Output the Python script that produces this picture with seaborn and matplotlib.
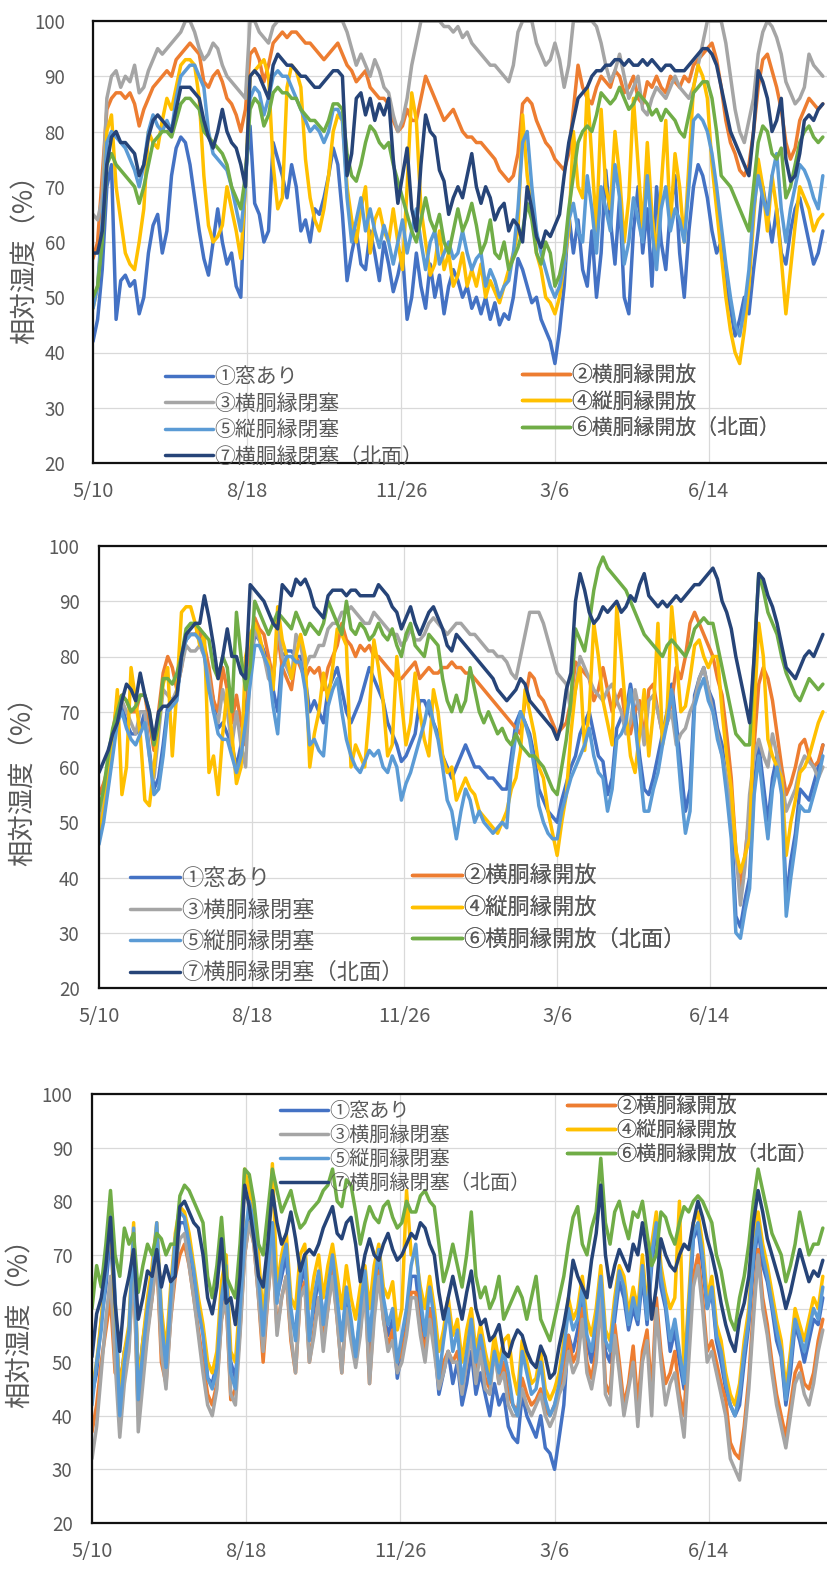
import numpy as np
import pandas as pd
import matplotlib
matplotlib.use("Agg")
import matplotlib.pyplot as plt
import matplotlib.dates as mdates
from matplotlib.lines import Line2D
from matplotlib.ticker import FixedLocator, FixedFormatter
import seaborn as sns

# ---- data: relative humidity (%), one reading every 3 days from 2018-05-10 ----
START = "2018-05-10"
STEP = "3D"

series_names = ["①窓あり", "②横胴縁開放", "③横胴縁閉塞", "④縦胴縁開放",
                "⑤縦胴縁閉塞", "⑥横胴縁開放（北面）", "⑦横胴縁閉塞（北面）"]
colors = ["#4472C4", "#ED7D31", "#A5A5A5", "#FFC000", "#5B9BD5", "#70AD47", "#264478"]
tick_labels = ["5/10", "8/18", "11/26", "3/6", "6/14"]
tick_offsets_days = [0, 100, 200, 300, 400]
y_ticks = [20, 30, 40, 50, 60, 70, 80, 90, 100]

# panel 1
p1_s1 = [42, 46, 55, 70, 74, 46, 53, 54, 52, 53,
         47, 50, 58, 63, 65, 58, 62, 72, 77, 79,
         78, 74, 68, 62, 57, 54, 60, 66, 60, 56,
         58, 52, 50, 72, 81, 67, 65, 60, 62, 78,
         75, 72, 68, 74, 70, 62, 64, 60, 66, 65,
         68, 72, 77, 74, 65, 53, 58, 62, 56, 55,
         62, 58, 53, 60, 56, 51, 54, 58, 46, 50,
         58, 52, 48, 56, 50, 54, 47, 52, 55, 53,
         50, 52, 48, 50, 47, 50, 46, 49, 45, 47,
         46, 50, 57, 55, 52, 49, 50, 46, 44, 42,
         38, 44, 52, 65, 58, 64, 55, 52, 62, 50,
         58, 73, 64, 56, 68, 50, 47, 62, 70, 58,
         66, 52, 70, 60, 55, 66, 72, 58, 50, 62,
         70, 74, 72, 68, 62, 58, 60, 52, 48, 43,
         46, 50, 47, 55, 62, 70, 65, 60, 66, 58,
         56, 62, 66, 68, 64, 60, 56, 58, 62]
p1_s2 = [57, 60, 72, 84, 86, 87, 87, 86, 87, 85,
         81, 84, 86, 88, 89, 90, 91, 90, 93, 94,
         95, 96, 95, 94, 89, 88, 90, 91, 89, 86,
         85, 83, 80, 84, 94, 95, 93, 89, 92, 96,
         97, 98, 97, 98, 98, 97, 96, 96, 95, 94,
         93, 94, 95, 96, 94, 92, 91, 89, 90, 91,
         88, 87, 86, 86, 85, 82, 80, 81, 84, 82,
         82, 86, 90, 88, 86, 84, 82, 83, 84, 82,
         80, 79, 79, 78, 78, 77, 76, 75, 73, 72,
         71, 72, 76, 85, 86, 85, 82, 80, 78, 77,
         75, 74, 73, 76, 84, 92, 88, 86, 85, 88,
         90, 89, 88, 91, 90, 87, 88, 90, 86, 85,
         89, 88, 90, 88, 87, 90, 89, 88, 90, 89,
         92, 93, 94, 95, 96, 93, 88, 82, 78, 76,
         73, 72, 74, 80, 88, 93, 94, 91, 88, 84,
         78, 75, 77, 82, 84, 86, 85, 84, 85]
p1_s3 = [65, 64, 68, 86, 90, 91, 88, 90, 89, 92,
         87, 88, 91, 93, 95, 94, 95, 96, 97, 98,
         100, 100, 98, 95, 93, 94, 96, 95, 92, 90,
         89, 88, 87, 86, 100, 100, 98, 97, 96, 99,
         100, 100, 100, 100, 100, 100, 100, 100, 100, 100,
         100, 100, 100, 100, 100, 98, 95, 92, 94, 92,
         90, 93, 91, 88, 87, 83, 80, 82, 86, 92,
         96, 100, 100, 100, 100, 100, 99, 99, 98, 99,
         97, 98, 96, 95, 94, 93, 92, 92, 91, 90,
         89, 92, 98, 100, 100, 100, 96, 94, 92, 93,
         96, 93, 88, 92, 100, 100, 100, 100, 100, 99,
         96, 92, 89, 91, 94, 90, 86, 88, 90, 84,
         83, 86, 88, 87, 86, 88, 90, 88, 87, 86,
         88, 92, 96, 100, 100, 100, 100, 96, 90, 84,
         80, 78, 82, 86, 94, 98, 100, 99, 97, 94,
         89, 87, 85, 86, 88, 94, 92, 91, 90]
p1_s4 = [48, 52, 62, 80, 83, 70, 64, 58, 56, 55,
         60, 66, 80, 78, 77, 82, 86, 84, 88, 92,
         93, 93, 92, 86, 72, 63, 60, 61, 63, 70,
         66, 62, 57, 70, 90, 91, 92, 93, 90, 74,
         66, 68, 88, 92, 91, 88, 75, 68, 64, 62,
         66, 72, 80, 83, 82, 70, 64, 60, 66, 70,
         58, 64, 66, 62, 60, 66, 60, 55, 70, 87,
         82, 66, 60, 54, 56, 62, 55, 58, 52, 54,
         58, 52, 55, 52, 56, 50, 53, 51, 49, 52,
         55, 58, 62, 83, 72, 66, 58, 55, 50, 49,
         47, 50, 56, 62, 80, 70, 68, 88, 75, 62,
         84, 70, 66, 80, 72, 60, 68, 86, 74, 62,
         78, 65, 58, 70, 82, 63, 76, 70, 60, 74,
         88, 92, 90, 86, 74, 66, 58, 50, 44, 40,
         38, 44, 52, 64, 75, 70, 62, 72, 66, 57,
         47, 55, 63, 70, 68, 66, 62, 64, 65]
p1_s5 = [48, 52, 64, 78, 80, 79, 78, 77, 75, 73,
         70, 74, 80, 83, 81, 80, 82, 80, 86, 90,
         91, 92, 92, 90, 88, 80, 76, 75, 74, 73,
         70, 66, 62, 70, 86, 88, 87, 83, 86, 90,
         91, 90, 90, 88, 86, 84, 82, 80, 81, 80,
         78, 80, 84, 84, 82, 68, 60, 64, 68, 62,
         66, 62, 59, 63, 60, 56, 60, 64, 58, 62,
         66, 60, 55, 60, 62, 56, 58, 60, 57, 58,
         62, 58, 55, 57, 58, 52, 55, 53, 50, 52,
         53, 58, 66, 78, 80, 70, 62, 58, 55, 52,
         50, 52, 56, 64, 67, 62, 60, 72, 66, 58,
         70, 66, 62, 74, 68, 56, 60, 68, 64, 60,
         72, 62, 55, 66, 70, 62, 66, 64, 60, 70,
         82, 83, 82, 80, 76, 70, 63, 56, 50, 45,
         43, 48, 55, 66, 72, 68, 65, 72, 76, 66,
         60, 66, 70, 74, 73, 71, 68, 66, 72]
p1_s6 = [50, 52, 60, 74, 76, 74, 73, 72, 71, 70,
         67, 70, 74, 78, 79, 80, 80, 79, 82, 85,
         86, 86, 85, 84, 80, 79, 78, 77, 76, 74,
         70, 68, 66, 72, 84, 86, 85, 81, 83, 87,
         88, 87, 87, 86, 86, 84, 83, 82, 82, 81,
         80, 82, 85, 85, 84, 76, 72, 71, 74, 78,
         81, 80, 78, 77, 78, 74, 71, 68, 65, 62,
         60, 64, 68, 64, 62, 65, 60, 58, 62, 66,
         62, 64, 67, 63, 58, 60, 64, 58, 57, 60,
         55, 57, 59, 62, 67, 64, 58, 56, 60, 58,
         52, 54, 58, 66, 72, 78, 80, 81, 80, 83,
         87, 86, 85, 86, 88, 86, 84, 85, 87, 86,
         85, 83, 84, 82, 84, 83, 82, 80, 79, 83,
         87, 88, 89, 89, 86, 80, 72, 71, 70, 68,
         66, 64, 62, 70, 78, 81, 80, 76, 75, 77,
         68, 70, 74, 78, 80, 81, 79, 78, 79]
p1_s7 = [58, 58, 62, 74, 79, 80, 78, 78, 77, 76,
         72, 74, 79, 82, 83, 82, 81, 80, 84, 88,
         88, 88, 87, 86, 82, 79, 77, 80, 84, 80,
         78, 77, 74, 70, 90, 91, 90, 88, 86, 92,
         94, 93, 92, 92, 91, 90, 90, 89, 88, 88,
         89, 90, 91, 91, 90, 72, 76, 86, 87, 83,
         86, 82, 85, 83, 86, 75, 67, 72, 77, 66,
         62, 74, 83, 80, 79, 73, 71, 65, 68, 70,
         68, 72, 76, 70, 67, 70, 68, 64, 66, 67,
         62, 64, 63, 60, 70, 66, 61, 59, 62, 61,
         63, 65, 72, 78, 82, 86, 87, 88, 90, 91,
         91, 92, 92, 93, 93, 92, 93, 92, 92, 93,
         92, 93, 92, 91, 92, 92, 91, 91, 91, 92,
         93, 94, 95, 95, 94, 92, 88, 84, 80, 78,
         76, 74, 72, 80, 91, 89, 86, 80, 82, 86,
         75, 71, 72, 76, 82, 83, 82, 84, 85]

# panel 2
p2_s1 = [47, 51, 57, 63, 69, 71, 68, 66, 66, 67,
         70, 63, 56, 58, 64, 71, 72, 73, 80, 83,
         84, 84, 84, 81, 76, 72, 67, 68, 66, 64,
         60, 64, 70, 78, 84, 83, 81, 79, 74, 70,
         80, 81, 81, 80, 80, 76, 70, 72, 70, 68,
         74, 76, 78, 74, 70, 68, 70, 72, 75, 78,
         76, 74, 72, 68, 66, 64, 61, 62, 64, 66,
         72, 72, 70, 68, 66, 62, 60, 58, 60, 62,
         64, 62, 60, 60, 59, 58, 58, 57, 56, 56,
         62, 68, 70, 68, 66, 62, 56, 54, 52, 51,
         50, 54, 57, 60, 62, 66, 68, 70, 66, 62,
         61, 55, 58, 67, 69, 70, 75, 70, 62, 56,
         55, 58, 62, 66, 70, 75, 68, 60, 52, 56,
         73, 76, 78, 74, 72, 67, 64, 57, 50, 33,
         31, 36, 40, 57, 64, 57, 50, 58, 62, 57,
         36, 43, 48, 56, 55, 54, 57, 60, 64]
p2_s2 = [55, 57, 60, 66, 72, 73, 72, 70, 70, 73,
         73, 68, 63, 70, 77, 80, 78, 74, 78, 84,
         84, 84, 85, 82, 78, 72, 70, 78, 74, 68,
         73, 68, 64, 82, 87, 85, 84, 80, 76, 84,
         78, 76, 74, 80, 78, 76, 78, 77, 78, 74,
         78, 80, 82, 86, 83, 82, 80, 82, 81, 82,
         80, 80, 79, 78, 77, 76, 76, 77, 78, 79,
         76, 77, 78, 77, 77, 78, 78, 79, 78, 78,
         77, 77, 76, 75, 74, 73, 72, 71, 70, 69,
         68, 67, 66, 72, 77, 76, 73, 72, 70, 68,
         66, 67, 68, 72, 79, 78, 77, 76, 72, 74,
         78, 74, 70, 72, 74, 68, 66, 70, 72, 65,
         74, 75, 70, 66, 68, 72, 78, 76, 80, 86,
         88, 86, 84, 82, 80, 76, 73, 66, 58, 45,
         38, 44, 52, 64, 75, 78, 76, 72, 66, 60,
         55, 57, 60, 64, 65, 62, 60, 61, 64]
p2_s3 = [50, 55, 60, 65, 70, 72, 70, 68, 66, 70,
         70, 62, 58, 66, 74, 73, 72, 74, 78, 82,
         81, 81, 82, 80, 76, 70, 68, 74, 70, 64,
         70, 64, 60, 78, 85, 83, 80, 76, 75, 86,
         80, 78, 76, 84, 82, 78, 80, 80, 82, 82,
         85, 86, 86, 88, 88, 89, 88, 87, 86, 86,
         88, 87, 86, 85, 84, 84, 82, 83, 85, 83,
         83, 84, 86, 87, 86, 85, 84, 85, 86, 86,
         85, 84, 84, 83, 82, 81, 81, 80, 80, 79,
         77, 76, 80, 84, 88, 88, 88, 86, 83, 80,
         77, 76, 75, 70, 74, 80, 78, 76, 74, 73,
         72, 74, 75, 72, 70, 66, 68, 74, 70, 64,
         72, 73, 70, 66, 68, 70, 64, 66, 67, 70,
         72, 76, 78, 74, 70, 66, 62, 58, 52, 45,
         35, 42, 55, 62, 65, 62, 60, 66, 62, 58,
         52, 54, 56, 60, 62, 61, 60, 58, 60]
p2_s4 = [48, 52, 58, 64, 74, 55, 60, 78, 72, 66,
         54, 53, 60, 68, 75, 78, 62, 74, 88, 89,
         89, 86, 82, 84, 59, 62, 55, 66, 74, 66,
         57, 60, 80, 84, 86, 84, 80, 79, 74, 89,
         83, 80, 76, 80, 84, 80, 60, 66, 70, 77,
         72, 78, 85, 84, 82, 60, 64, 62, 60, 70,
         83, 78, 72, 62, 64, 80, 72, 64, 68, 77,
         70, 65, 62, 74, 70, 62, 59, 60, 54, 56,
         58, 56, 55, 52, 51, 50, 49, 48, 50, 52,
         56, 58, 63, 74, 70, 66, 60, 58, 52, 48,
         44, 50, 55, 66, 74, 78, 63, 70, 86, 80,
         72, 68, 64, 89, 80, 70, 62, 59, 66, 74,
         62, 70, 86, 64, 70, 89, 80, 70, 71, 76,
         82, 83, 80, 78, 80, 80, 70, 62, 56, 45,
         41, 44, 47, 70, 86, 80, 65, 62, 60, 58,
         44, 50, 54, 59, 60, 62, 65, 68, 70]
p2_s5 = [46, 50, 56, 62, 68, 70, 67, 65, 64, 66,
         68, 62, 55, 56, 62, 70, 71, 72, 80, 83,
         84, 84, 83, 80, 74, 70, 66, 65, 65, 62,
         59, 62, 68, 75, 82, 82, 80, 78, 71, 66,
         78, 80, 80, 79, 79, 74, 64, 65, 63, 62,
         71, 74, 76, 70, 65, 62, 60, 59, 61, 63,
         62, 63, 60, 59, 62, 60, 54, 57, 59, 62,
         65, 68, 72, 68, 65, 60, 54, 52, 47, 52,
         56, 54, 50, 52, 50, 49, 48, 49, 50, 49,
         60, 66, 70, 68, 65, 60, 53, 50, 48, 47,
         47, 52, 55, 58, 60, 62, 64, 67, 62, 59,
         58, 52, 56, 65, 66, 68, 74, 68, 60, 52,
         52, 56, 59, 64, 68, 74, 66, 56, 48, 52,
         71, 74, 76, 72, 70, 65, 62, 55, 47, 30,
         29, 34, 38, 55, 62, 54, 47, 56, 60, 55,
         33, 40, 46, 53, 52, 52, 55, 58, 62]
p2_s6 = [52, 56, 62, 67, 70, 73, 72, 70, 71, 73,
         73, 70, 64, 68, 76, 76, 75, 77, 80, 85,
         86, 86, 85, 84, 83, 78, 76, 80, 78, 70,
         88, 80, 74, 78, 90, 88, 86, 84, 86, 88,
         87, 86, 85, 88, 86, 84, 86, 85, 84, 86,
         90, 88, 86, 84, 90, 85, 84, 86, 85, 83,
         84, 86, 84, 83, 85, 82, 80, 84, 86, 82,
         81, 80, 84, 83, 82, 76, 72, 70, 73, 70,
         72, 78, 74, 70, 68, 70, 68, 66, 67, 65,
         64, 66, 64, 63, 62, 62, 61, 60, 58, 56,
         55, 60, 65, 72, 85, 83, 81, 86, 92, 96,
         98, 96, 95, 94, 93, 92, 90, 88, 86, 84,
         83, 82, 81, 80, 82, 83, 82, 81, 80, 82,
         85, 86, 87, 86, 86, 82, 78, 74, 70, 66,
         65, 64, 64, 80, 95, 92, 88, 86, 84, 80,
         77, 75, 73, 72, 74, 76, 75, 74, 75]
p2_s7 = [59, 61, 63, 66, 68, 72, 75, 74, 72, 77,
         73, 70, 65, 70, 71, 71, 72, 73, 80, 84,
         85, 86, 86, 91, 87, 82, 76, 80, 85, 80,
         80, 77, 76, 93, 92, 91, 90, 88, 86, 85,
         93, 92, 91, 94, 93, 94, 92, 89, 88, 87,
         91, 92, 92, 92, 91, 92, 92, 91, 91, 91,
         91, 93, 92, 91, 89, 88, 85, 87, 89, 86,
         84, 86, 88, 89, 87, 85, 82, 81, 84, 83,
         82, 81, 80, 79, 78, 77, 76, 74, 73, 72,
         73, 74, 76, 75, 72, 71, 70, 69, 68, 67,
         65, 68, 74, 77, 90, 95, 92, 88, 86, 87,
         89, 88, 89, 90, 88, 89, 91, 90, 93, 95,
         91, 90, 89, 90, 89, 90, 91, 90, 91, 92,
         93, 93, 94, 95, 96, 94, 90, 88, 85, 80,
         76, 72, 68, 80, 95, 94, 91, 89, 86, 82,
         78, 77, 76, 78, 80, 81, 80, 82, 84]

# panel 3
p3_s1 = [44, 48, 58, 64, 74, 58, 45, 52, 55, 72,
         46, 54, 60, 64, 74, 56, 50, 60, 70, 76,
         76, 72, 66, 60, 56, 47, 46, 50, 60, 66,
         50, 47, 58, 72, 79, 74, 66, 56, 66, 75,
         62, 66, 70, 58, 56, 64, 68, 55, 60, 66,
         58, 62, 68, 60, 55, 62, 56, 52, 58, 66,
         50, 62, 70, 60, 55, 58, 47, 52, 58, 66,
         66, 58, 52, 60, 54, 44, 48, 52, 46, 50,
         42, 46, 52, 44, 48, 44, 40, 46, 42, 44,
         38, 36, 35, 44, 40, 38, 36, 40, 34, 33,
         30, 36, 42, 55, 52, 56, 62, 54, 50, 56,
         64, 52, 50, 58, 65, 62, 56, 60, 57, 66,
         57, 68, 75, 64, 60, 52, 56, 50, 45, 58,
         73, 75, 68, 60, 63, 54, 50, 45, 42, 40,
         42, 50, 57, 68, 75, 68, 65, 60, 54, 51,
         42, 48, 57, 54, 50, 54, 58, 57, 62]
p3_s2 = [37, 42, 50, 56, 62, 48, 47, 50, 54, 68,
         40, 48, 56, 62, 70, 50, 46, 58, 66, 70,
         72, 68, 62, 56, 50, 44, 42, 46, 58, 62,
         43, 45, 56, 70, 76, 72, 62, 50, 62, 72,
         56, 62, 66, 54, 48, 62, 65, 50, 56, 62,
         54, 60, 67, 58, 48, 60, 56, 50, 56, 65,
         46, 60, 67, 58, 53, 56, 50, 52, 56, 63,
         63, 56, 52, 60, 54, 46, 50, 52, 50, 52,
         45, 50, 56, 47, 53, 47, 45, 53, 46, 50,
         44, 42, 41, 47, 44, 42, 43, 45, 41, 40,
         42, 45, 48, 55, 50, 52, 60, 50, 47, 52,
         63, 46, 44, 57, 50, 42, 46, 53, 42, 52,
         56, 44, 62, 52, 46, 48, 52, 44, 40, 55,
         66, 70, 62, 52, 54, 50, 46, 43, 35, 33,
         32, 38, 47, 60, 71, 62, 57, 50, 44, 40,
         36, 42, 48, 50, 46, 45, 48, 54, 58]
p3_s3 = [32, 38, 48, 58, 66, 50, 36, 46, 52, 70,
         37, 46, 55, 62, 70, 52, 45, 58, 68, 73,
         74, 68, 62, 55, 48, 42, 40, 45, 58, 62,
         44, 42, 55, 70, 76, 72, 62, 52, 62, 72,
         55, 62, 66, 55, 48, 62, 64, 50, 55, 62,
         52, 60, 66, 58, 48, 60, 54, 49, 55, 64,
         46, 58, 66, 58, 52, 54, 48, 50, 55, 62,
         62, 55, 50, 58, 52, 45, 48, 52, 50, 50,
         44, 50, 55, 46, 52, 45, 44, 52, 46, 48,
         42, 40, 40, 45, 42, 40, 42, 44, 40, 38,
         40, 44, 46, 52, 48, 50, 58, 48, 45, 50,
         62, 44, 42, 55, 48, 40, 45, 50, 38, 50,
         54, 40, 60, 50, 42, 46, 48, 42, 36, 50,
         64, 68, 60, 50, 52, 48, 44, 40, 32, 30,
         28, 36, 45, 58, 70, 60, 55, 48, 42, 38,
         34, 40, 46, 48, 44, 42, 46, 52, 56]
p3_s4 = [45, 50, 58, 68, 76, 60, 44, 52, 57, 76,
         45, 54, 62, 68, 76, 60, 52, 64, 74, 79,
         78, 74, 68, 62, 57, 50, 48, 52, 65, 70,
         52, 50, 62, 86, 82, 77, 70, 58, 70, 87,
         64, 70, 74, 62, 60, 70, 72, 60, 66, 70,
         62, 68, 72, 66, 60, 68, 62, 58, 64, 68,
         60, 68, 72, 64, 62, 65, 56, 60, 82, 70,
         70, 64, 60, 66, 60, 52, 56, 62, 55, 58,
         50, 56, 60, 52, 57, 52, 48, 55, 50, 54,
         55, 48, 44, 54, 50, 46, 47, 52, 45, 43,
         45, 48, 54, 62, 58, 60, 66, 58, 55, 60,
         68, 56, 54, 62, 68, 66, 59, 64, 60, 70,
         60, 72, 78, 68, 63, 60, 62, 80, 48, 62,
         76, 78, 72, 62, 66, 57, 54, 48, 44, 42,
         46, 54, 60, 72, 78, 72, 68, 63, 58, 54,
         45, 52, 60, 57, 54, 58, 62, 60, 66]
p3_s5 = [42, 50, 56, 66, 79, 62, 40, 50, 56, 75,
         43, 52, 60, 66, 76, 58, 49, 62, 73, 78,
         77, 72, 67, 60, 55, 47, 45, 49, 62, 68,
         48, 45, 60, 73, 80, 76, 66, 55, 67, 76,
         61, 68, 72, 60, 54, 66, 70, 54, 62, 67,
         57, 64, 70, 62, 54, 64, 58, 51, 60, 67,
         54, 64, 71, 62, 57, 60, 50, 55, 60, 68,
         72, 62, 55, 64, 58, 47, 54, 60, 52, 56,
         46, 52, 58, 50, 55, 50, 46, 52, 48, 52,
         48, 42, 40, 52, 48, 44, 45, 50, 43, 40,
         42, 46, 52, 60, 56, 58, 64, 55, 52, 58,
         66, 54, 52, 60, 67, 64, 57, 62, 58, 68,
         58, 70, 76, 66, 61, 54, 58, 52, 46, 60,
         74, 76, 70, 60, 64, 55, 52, 46, 42, 40,
         44, 52, 58, 70, 76, 70, 66, 61, 56, 52,
         43, 50, 58, 55, 52, 56, 60, 58, 64]
p3_s6 = [60, 68, 64, 72, 82, 70, 66, 75, 72, 74,
         63, 68, 72, 70, 74, 73, 70, 72, 72, 81,
         83, 82, 80, 78, 76, 66, 62, 68, 77, 66,
         64, 62, 72, 86, 85, 80, 72, 70, 78, 86,
         82, 78, 80, 82, 78, 75, 76, 78, 79, 80,
         82, 83, 86, 80, 79, 84, 83, 78, 72, 76,
         79, 77, 76, 79, 80, 77, 75, 76, 80, 78,
         78, 81, 82, 80, 79, 72, 65, 68, 72, 68,
         64, 70, 78, 66, 62, 64, 60, 62, 66, 58,
         60, 62, 64, 62, 58, 62, 66, 58, 56, 54,
         58, 62, 66, 72, 77, 79, 72, 70, 75, 78,
         88, 76, 72, 78, 80, 76, 73, 78, 77, 80,
         74, 68, 70, 78, 77, 74, 72, 76, 79, 78,
         80, 81, 80, 78, 76, 70, 67, 62, 58, 56,
         62, 66, 72, 80, 86, 82, 78, 74, 72, 70,
         65, 68, 72, 78, 74, 70, 72, 72, 75]
p3_s7 = [51, 59, 62, 68, 77, 61, 52, 62, 66, 71,
         58, 62, 67, 66, 71, 64, 68, 65, 66, 79,
         80, 78, 76, 75, 70, 62, 59, 64, 73, 61,
         62, 57, 66, 83, 79, 73, 66, 64, 72, 82,
         76, 72, 74, 78, 73, 67, 70, 71, 70, 72,
         75, 77, 79, 74, 73, 76, 77, 72, 65, 70,
         73, 70, 69, 72, 74, 71, 69, 70, 72, 74,
         73, 76, 75, 72, 70, 63, 58, 62, 66, 62,
         58, 63, 67, 60, 57, 58, 54, 55, 57, 52,
         51, 54, 56, 55, 52, 50, 49, 53, 51, 47,
         48, 53, 57, 62, 69, 66, 64, 62, 69, 74,
         83, 70, 64, 68, 71, 69, 67, 72, 70, 76,
         70, 58, 64, 73, 70, 68, 67, 70, 72, 71,
         76, 80, 77, 73, 70, 66, 61, 57, 54, 52,
         58, 61, 66, 76, 82, 78, 73, 70, 67, 64,
         60, 63, 67, 71, 68, 65, 67, 66, 69]

panels = [
    [p1_s1, p1_s2, p1_s3, p1_s4, p1_s5, p1_s6, p1_s7],
    [p2_s1, p2_s2, p2_s3, p2_s4, p2_s5, p2_s6, p2_s7],
    [p3_s1, p3_s2, p3_s3, p3_s4, p3_s5, p3_s6, p3_s7],
]

# ---- styling ----
sns.set_style("white")
plt.rcParams["font.family"] = ["Noto Sans CJK JP", "DejaVu Sans"]
TEXT = "#595959"
W, H = 827, 1579
DPI = 100
LINE_W = 2.5

fig = plt.figure(figsize=(W / DPI, H / DPI), dpi=DPI, facecolor="white")

# plot-area boxes and legend anchors in pixels
layout = [
    dict(left=93, top=21, bottom=463, ypad=20, ylab=(25, 253),
         leg_left=(165, 366), leg_right=(522, 364), fs=15, ls=0.22, hl=2.3),
    dict(left=99, top=546, bottom=988, ypad=14, ylab=(23, 775),
         leg_left=(130, 867), leg_right=(412, 865), fs=16, ls=0.38, hl=2.25),
    dict(left=92, top=1094, bottom=1523, ypad=14, ylab=(20, 1317),
         leg_left=(280, 1101), leg_right=(567, 1096), fs=14.5, ls=0.15, hl=2.4),
]
RIGHT_PX = 829
X_SPAN_DAYS = 478

start = pd.Timestamp(START)
tick_dates = [start + pd.Timedelta(days=d) for d in tick_offsets_days]

for values, lay in zip(panels, layout):
    n = len(values[0])
    assert all(len(v) == n for v in values)
    dates = pd.date_range(START, periods=n, freq=STEP)
    df = pd.DataFrame({
        "date": np.tile(dates, len(series_names)),
        "rh": np.concatenate([np.asarray(v, dtype=float) for v in values]),
        "series": np.repeat(series_names, n),
    })

    ax = fig.add_axes([lay["left"] / W, 1 - lay["bottom"] / H,
                       (RIGHT_PX - lay["left"]) / W, (lay["bottom"] - lay["top"]) / H])
    sns.lineplot(data=df, x="date", y="rh", hue="series", hue_order=series_names,
                 palette=colors, linewidth=LINE_W, estimator=None, sort=False,
                 legend=False, ax=ax)

    ax.set_xlim(start, start + pd.Timedelta(days=X_SPAN_DAYS))
    ax.set_ylim(20, 100)
    ax.xaxis.set_major_locator(FixedLocator(mdates.date2num(tick_dates)))
    ax.xaxis.set_major_formatter(FixedFormatter(tick_labels))
    ax.set_yticks(y_ticks)
    ax.grid(True, color="#D9D9D9", linewidth=0.9)
    ax.set_axisbelow(True)
    ax.set_xlabel("")
    ax.set_ylabel("相対湿度（%）", fontsize=19, color=TEXT, va="center", ha="center")
    ax.yaxis.set_label_coords(lay["ylab"][0] / W, 1 - lay["ylab"][1] / H,
                              transform=fig.transFigure)
    ax.tick_params(axis="x", length=0, pad=13, labelsize=14.5, labelcolor=TEXT)
    ax.tick_params(axis="y", length=0, pad=lay["ypad"], labelsize=13.5, labelcolor=TEXT)
    for side in ("left", "bottom", "top", "right"):
        ax.spines[side].set_color("#111111")
        ax.spines[side].set_linewidth(1.6)

    def add_legend(idx, anchor):
        handles = [Line2D([], [], color=colors[i], linewidth=LINE_W) for i in idx]
        labels = [series_names[i] for i in idx]
        leg = ax.legend(handles, labels, loc="upper left",
                        bbox_to_anchor=(anchor[0] / W, 1 - anchor[1] / H),
                        bbox_transform=fig.transFigure, frameon=False,
                        borderpad=0, borderaxespad=0, handlelength=lay["hl"],
                        handletextpad=0.05, labelspacing=lay["ls"],
                        prop={"size": lay["fs"]})
        for t in leg.get_texts():
            t.set_color(TEXT)
        ax.add_artist(leg)

    add_legend([0, 2, 4, 6], lay["leg_left"])
    add_legend([1, 3, 5], lay["leg_right"])

fig.savefig("out.png", dpi=DPI, facecolor="white")
